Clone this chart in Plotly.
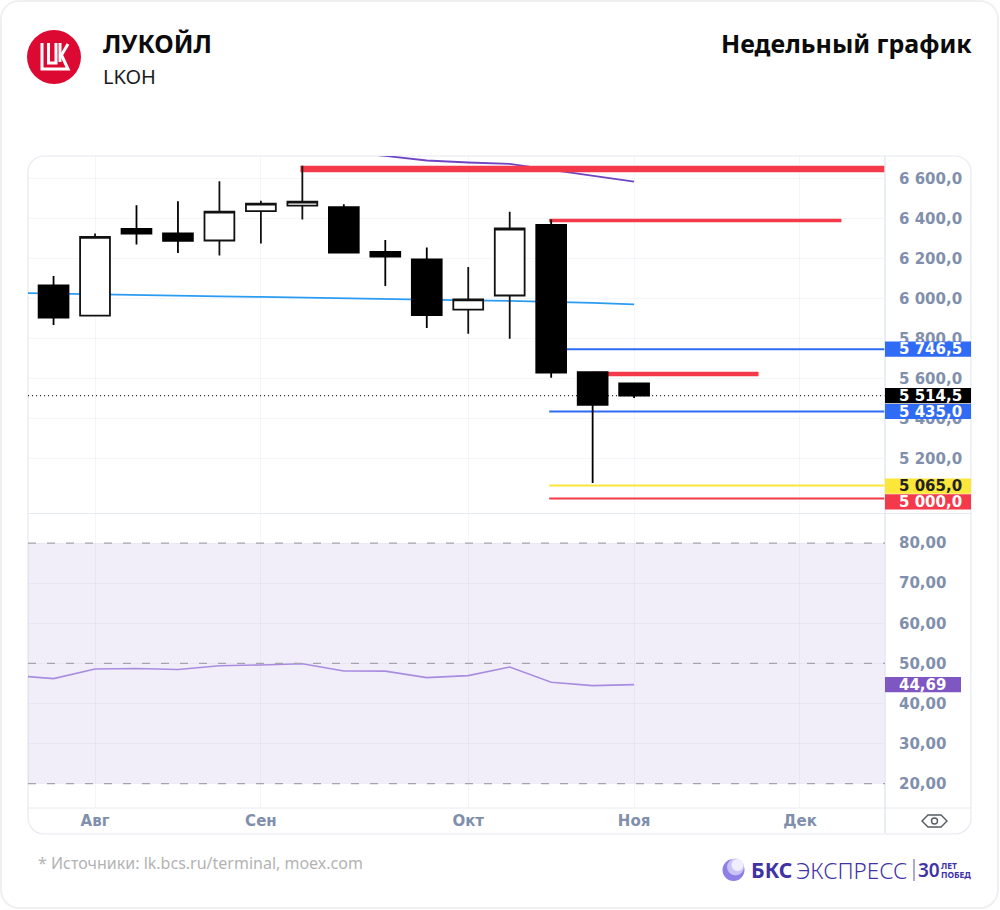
import plotly.graph_objects as go

W, H = 1000, 910

# Weekly candles
dates = ["2025-07-28", "2025-08-04", "2025-08-11", "2025-08-18", "2025-08-25",
         "2025-09-01", "2025-09-08", "2025-09-15", "2025-09-22", "2025-09-29",
         "2025-10-06", "2025-10-13", "2025-10-20", "2025-10-27", "2025-11-03"]
opens = [6066, 5914, 6348, 6325, 6290, 6437, 6464, 6457, 6233, 6195, 5944, 6015, 6368, 5632, 5575]
highs = [6113, 6325, 6466, 6486, 6586, 6489, 6664, 6471, 6292, 6255, 6158, 6434, 6395, 5635, 5580]
lows = [5867, 5914, 6270, 6228, 6215, 6275, 6395, 6230, 6063, 5852, 5824, 5799, 5604, 5077, 5503]
closes = [5904, 6308, 6325, 6288, 6434, 6474, 6484, 6230, 6210, 5917, 5996, 6350, 5629, 5468, 5514.5]

# Moving averages, starting one week before the first candle
ma_dates = ["2025-07-21"] + dates
ma_blue = [6028, 6024, 6020, 6017, 6014, 6011, 6008, 6004, 6001, 5998, 5995, 5991, 5988, 5984, 5978, 5971]
ma_purple_dates = dates[6:]
ma_purple = [6790, 6733, 6713, 6690, 6680, 6673, 6643, 6613, 6584]

# RSI
rsi = [47.0, 46.2, 48.6, 48.7, 48.45, 49.4, 49.6, 49.9, 48.1, 48.05, 46.45, 46.95, 49.1, 45.3, 44.45, 44.69]
rsi_levels = [80, 50, 20]

# Support and resistance levels: value, first week, last week, colour, width
RANGE_END = "2025-12-15 08:24"
levels = [
    (6648, "2025-09-07 16:00", RANGE_END, "#f43a4a", 6.5),
    (6390, "2025-10-19 16:00", "2025-12-08", "#f43a4a", 3.5),
    (5622, "2025-10-27", "2025-11-24", "#f43a4a", 4.5),
    (5746.5, "2025-10-19 16:00", RANGE_END, "#2f6bf5", 2),
    (5435, "2025-10-19 16:00", RANGE_END, "#2f6bf5", 2),
    (5065, "2025-10-19 16:00", RANGE_END, "#fbe63a", 2),
    (5000, "2025-10-19 16:00", RANGE_END, "#f43a4a", 2),
]

# Price tags on the axis: centre value, text, fill, text colour
price_tags = [
    (5746.5, "5 746,5", "#2f6bf5", "#ffffff"),
    (5514.5, "5 514,5", "#000000", "#ffffff"),
    (5435, "5 435,0", "#2f6bf5", "#ffffff"),
    (5062, "5 065,0", "#fbe63a", "#222222"),
    (4983, "5 000,0", "#f43a4a", "#ffffff"),
]

price_ticks = [5200, 5400, 5600, 5800, 6000, 6200, 6400, 6600]
rsi_ticks = [20, 30, 40, 50, 60, 70, 80]
month_dates = ["2025-08-04", "2025-09-01", "2025-10-06", "2025-11-03", "2025-12-01"]
month_names = ["Авг", "Сен", "Окт", "Ноя", "Дек"]

AXIS_TEXT = "#7f8fac"
GRID = "rgba(120,130,170,0.07)"
BORDER = "#e6eaf1"


def fx(x):
    return x / W


def fy(y):
    return 1 - y / H


def poly(points, close=False):
    d = "M" + " L".join(f"{fx(x):.5f},{fy(y):.5f}" for x, y in points)
    return d + (" Z" if close else "")


def rounded_rect(x0, y0, x1, y1, r):
    c = 0.45 * r
    pts = [
        f"M{fx(x0 + r):.5f},{fy(y0):.5f}",
        f"L{fx(x1 - r):.5f},{fy(y0):.5f}",
        f"C{fx(x1 - c):.5f},{fy(y0):.5f} {fx(x1):.5f},{fy(y0 + c):.5f} {fx(x1):.5f},{fy(y0 + r):.5f}",
        f"L{fx(x1):.5f},{fy(y1 - r):.5f}",
        f"C{fx(x1):.5f},{fy(y1 - c):.5f} {fx(x1 - c):.5f},{fy(y1):.5f} {fx(x1 - r):.5f},{fy(y1):.5f}",
        f"L{fx(x0 + r):.5f},{fy(y1):.5f}",
        f"C{fx(x0 + c):.5f},{fy(y1):.5f} {fx(x0):.5f},{fy(y1 - c):.5f} {fx(x0):.5f},{fy(y1 - r):.5f}",
        f"L{fx(x0):.5f},{fy(y0 + r):.5f}",
        f"C{fx(x0):.5f},{fy(y0 + c):.5f} {fx(x0 + c):.5f},{fy(y0):.5f} {fx(x0 + r):.5f},{fy(y0):.5f} Z",
    ]
    return " ".join(pts)


def circle(cx, cy, r, **kw):
    return dict(type="circle", xref="paper", yref="paper", x0=fx(cx - r), x1=fx(cx + r),
                y0=fy(cy + r), y1=fy(cy - r), **kw)


def hline(x0, x1, y, color, width=1):
    return dict(type="line", xref="paper", yref="paper", x0=fx(x0), x1=fx(x1), y0=fy(y), y1=fy(y),
                line=dict(color=color, width=width), layer="above")


def text(x, y, s, size, color, weight=400, family="Noto Sans", anchor="left"):
    return dict(xref="paper", yref="paper", x=fx(x), y=fy(y), text=s, showarrow=False,
                xanchor=anchor, yanchor="middle", align=anchor,
                font=dict(size=size, color=color, family=family, weight=weight))


fig = go.Figure()

# Lines sit beneath the candles, so they take a lower zorder
fig.add_trace(go.Scatter(x=ma_dates, y=ma_blue, mode="lines", zorder=-1, hoverinfo="skip",
                         line=dict(color="#2c9cf2", width=1.8)))
fig.add_trace(go.Scatter(x=ma_purple_dates, y=ma_purple, mode="lines", zorder=-1, hoverinfo="skip",
                         line=dict(color="#6f45c4", width=1.8)))
fig.add_trace(go.Scatter(x=[ma_dates[0], RANGE_END], y=[closes[-1], closes[-1]], mode="lines", zorder=-1,
                         hoverinfo="skip", line=dict(color="#222222", width=1.1, dash="1px 3px")))
for value, start, end, color, width in levels:
    fig.add_trace(go.Scatter(x=[start, end], y=[value, value], mode="lines", zorder=-1, hoverinfo="skip",
                             line=dict(color=color, width=width)))

fig.add_trace(go.Candlestick(
    x=dates, open=opens, high=highs, low=lows, close=closes, whiskerwidth=0,
    increasing=dict(line=dict(color="#111111", width=1.8), fillcolor="#ffffff"),
    decreasing=dict(line=dict(color="#000000", width=1.8), fillcolor="#000000"),
))

# RSI panel
fig.add_trace(go.Scatter(x=ma_dates, y=rsi, yaxis="y2", mode="lines", hoverinfo="skip",
                         line=dict(color="#a88ddf", width=1.6)))

shapes = [
    # Outer card and chart frame
    dict(type="path", xref="paper", yref="paper", path=rounded_rect(1, 1, 998, 908, 18),
         line=dict(color="#eff0f2", width=2), layer="below"),
    dict(type="path", xref="paper", yref="paper", path=rounded_rect(28, 156, 971, 834, 16),
         line=dict(color=BORDER, width=1.2), layer="below"),
    # RSI band
    dict(type="rect", xref="x domain", yref="y2", x0=0, x1=1, y0=rsi_levels[2], y1=rsi_levels[0],
         fillcolor="rgba(126,87,194,0.10)", line_width=0, layer="below"),
    # Panel separators
    hline(28, 971, 513.5, BORDER),
    hline(28, 971, 808, BORDER),
    dict(type="line", xref="paper", yref="paper", x0=fx(885), x1=fx(885), y0=fy(156), y1=fy(833),
         line=dict(color="#e2e8f3", width=1.5), layer="above"),
]
for lvl in rsi_levels:
    shapes.append(dict(type="line", xref="x domain", yref="y2", x0=0, x1=1, y0=lvl, y1=lvl,
                       line=dict(color="#a5a3ad", width=1.2, dash="8px 11px"), layer="above"))

# Issuer logo
shapes.append(circle(54, 57, 27, fillcolor="#dc0a33", line_width=0, layer="above"))
for pts in (
    [(42, 43), (42, 69), (68, 69), (61.5, 55), (68, 44)],
    [(48.5, 43), (48.5, 63), (56, 63), (56, 43)],
    [(60, 43), (60, 62)],
):
    shapes.append(dict(type="path", xref="paper", yref="paper", path=poly(pts),
                       line=dict(color="#ffffff", width=3), layer="above"))

# Axis price tags
for value, _, fill, _ in price_tags:
    shapes.append(dict(type="rect", xref="paper", yref="y", x0=fx(885), x1=fx(971),
                       y0=value - 38, y1=value + 38, fillcolor=fill, line_width=0, layer="above"))
shapes.append(dict(type="rect", xref="paper", yref="y2", x0=fx(885), x1=fx(961),
                   y0=rsi[-1] - 1.9, y1=rsi[-1] + 1.9, fillcolor="#7e57c2", line_width=0, layer="above"))

# Eye button
shapes.append(dict(type="path", xref="paper", yref="paper", layer="above",
                   path=poly([(922, 821), (928, 815), (941, 815), (947, 821), (941, 827), (928, 827)], close=True),
                   line=dict(color="#555a60", width=1.4)))
shapes.append(circle(934.5, 821, 3, line=dict(color="#555a60", width=1.4)))

# Broker logo
shapes.append(circle(733.5, 870, 11, fillcolor="#8d7fe6", line_width=0, layer="above"))
shapes.append(circle(735.5, 867, 8.5, fillcolor="#c9c3f5", line_width=0, layer="above"))
shapes.append(circle(737.5, 865, 6, fillcolor="#f0eefc", line_width=0, layer="above"))
shapes.append(dict(type="line", xref="paper", yref="paper", x0=fx(914), x1=fx(914), y0=fy(859), y1=fy(881),
                   line=dict(color="#7b6fc4", width=1.2), layer="above"))

annotations = [
    text(101, 43, "ЛУКОЙЛ", 25, "#0b0b0b", 700),
    text(101, 76, "LKOH", 20, "#1c1c1c"),
    text(974, 43, "Недельный график", 25, "#0b0b0b", 700, anchor="right"),
    text(36, 863, "* Источники: lk.bcs.ru/terminal, moex.com", 16, "#b3b3b3"),
    text(749, 870, "БКС", 21, "#3f33a6", 700),
    text(794, 870, "ЭКСПРЕСС", 22.5, "#3f33a6", 300),
    text(916, 870, "30", 19, "#3f33a6", 600),
    text(939, 865, "ЛЕТ", 8.5, "#3f33a6", 700),
    text(939, 874, "ПОБЕД", 8.5, "#3f33a6", 700),
]
for value, label, _, color in price_tags:
    annotations.append(dict(xref="paper", yref="y", x=fx(897), y=value, text=label, showarrow=False,
                            xanchor="left", yanchor="middle",
                            font=dict(size=15, color=color, family="DejaVu Sans", weight=700)))
annotations.append(dict(xref="paper", yref="y2", x=fx(897), y=rsi[-1], text="44,69", showarrow=False,
                        xanchor="left", yanchor="middle",
                        font=dict(size=15, color="#ffffff", family="DejaVu Sans", weight=700)))

tick_font = dict(size=15, color=AXIS_TEXT, family="DejaVu Sans", weight=700)

fig.update_layout(
    width=W, height=H, autosize=False, showlegend=False,
    margin=dict(l=0, r=0, t=0, b=0), paper_bgcolor="#ffffff", plot_bgcolor="#ffffff",
    separators=", ", boxgap=0.28, boxgroupgap=0,
    xaxis=dict(domain=[fx(28), fx(885)], anchor="y2", type="date",
               range=["2025-07-23 16:30", RANGE_END], rangeslider=dict(visible=False),
               tickmode="array", tickvals=month_dates, ticktext=month_names,
               ticks="", ticklabelstandoff=2,
               tickfont=dict(size=15, color=AXIS_TEXT, family="DejaVu Sans", weight=700),
               showgrid=True, gridcolor=GRID, gridwidth=1, zeroline=False, showline=False),
    yaxis=dict(domain=[fy(513.5), fy(156)], side="right", anchor="x", range=[4925, 6712.5],
               tickmode="array", tickvals=price_ticks, tickformat=",.1f",
               ticks="outside", ticklen=10, tickcolor="rgba(0,0,0,0)", tickfont=tick_font,
               showgrid=True, gridcolor=GRID, gridwidth=1, zeroline=False, showline=False),
    yaxis2=dict(domain=[fy(808), fy(513.5)], side="right", anchor="x", range=[13.9, 87.4],
                tickmode="array", tickvals=rsi_ticks, tickformat=".2f",
                ticks="outside", ticklen=10, tickcolor="rgba(0,0,0,0)", tickfont=tick_font,
                showgrid=True, gridcolor=GRID, gridwidth=1, zeroline=False, showline=False),
    shapes=shapes,
    annotations=annotations,
)

fig.write_html("out.html", config=dict(displayModeBar=False))
